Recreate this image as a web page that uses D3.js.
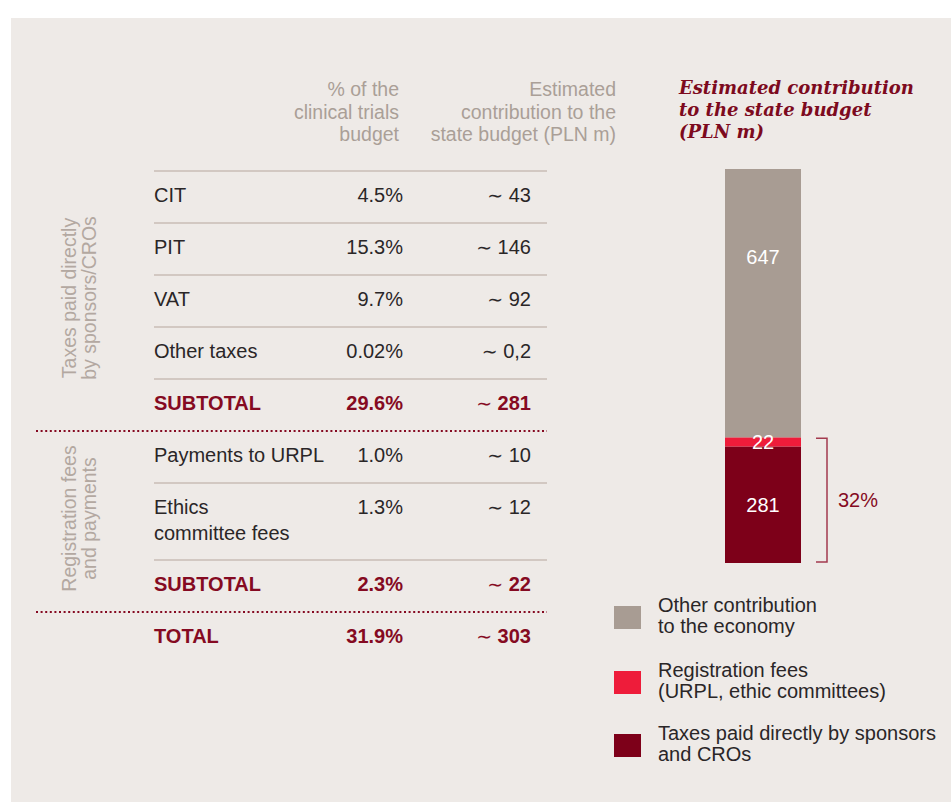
<!doctype html>
<html>
<head>
<meta charset="utf-8" />
<title>Clinical trials – contribution to the state budget</title>
<style>
  html,body{margin:0;height:100%;background:#fff}
  body{font-family:"Liberation Sans", Arial, sans-serif}
  svg{display:block}
</style>
<script src="https://cdn.jsdelivr.net/npm/d3@7"></script>
</head>
<body>
<svg id="chart" width="951" height="802"></svg>
<script>
// ───────────── data ─────────────
const groupLabels   = [["Taxes paid directly", "by sponsors/CROs"], ["Registration fees", "and payments"]];
const rowLabels     = ["CIT", "PIT", "VAT", "Other taxes", "SUBTOTAL",
                       "Payments to URPL", "Ethics\ncommittee fees", "SUBTOTAL", "TOTAL"];
const rowGroup      = [0, 0, 0, 0, 0, 1, 1, 1, 2];
const rowIsTotal    = [false, false, false, false, true, false, false, true, true];
const pctLabels     = ["4.5%", "15.3%", "9.7%", "0.02%", "29.6%", "1.0%", "1.3%", "2.3%", "31.9%"];
const contribLabels = ["43", "146", "92", "0,2", "281", "10", "12", "22", "303"];
const headerPct     = ["% of the", "clinical trials", "budget"];
const headerContrib = ["Estimated", "contribution to the", "state budget (PLN m)"];

const chartTitle    = ["Estimated contribution", "to the state budget", "(PLN m)"];
const barSeries     = ["taxes", "fees", "other"];
const barValues     = [281, 22, 647];
const barLabels     = ["281", "22", "647"];
const bracketLabel  = "32%";
const legendItems   = [
  {key: "other", lines: ["Other contribution", "to the economy"]},
  {key: "fees",  lines: ["Registration fees", "(URPL, ethic committees)"]},
  {key: "taxes", lines: ["Taxes paid directly by sponsors", "and CROs"]}
];

// ───────────── styles ─────────────
const C = {
  panel: "#eeeae7", text: "#2a2627", grey: "#aa9f97", rule: "#c9bdb6",
  red: "#850a22", title: "#7d0a1e", bracket: "#a33a4f"
};
const colour = d3.scaleOrdinal().domain(barSeries).range(["#7d0019", "#ee1c3a", "#a89c93"]);
const FS = 20;

const svg = d3.select("#chart");
svg.append("rect").attr("x", 11).attr("y", 18).attr("width", 940).attr("height", 784).attr("fill", C.panel);

// ───────────── table ─────────────
const colLabelX = 154, colPctX = 403, colContribX = 531, ruleX1 = 547;
const rowH = 52, extraLine = 25, tableTop = 171;

// cumulative row tops
const rowTops = [];
let yAcc = tableTop;
rowLabels.forEach(l => {
  rowTops.push(yAcc);
  yAcc += rowH + (l.split("\n").length - 1) * extraLine;
});
rowTops.push(yAcc);

const tbl = svg.append("g");

// headers
[[headerPct, colPctX - 4], [headerContrib, colContribX + 85]].forEach(([lines, x]) => {
  tbl.append("text")
    .attr("x", x).attr("y", 96)
    .attr("text-anchor", "end")
    .attr("fill", C.grey).attr("font-size", 19.5)
    .selectAll("tspan").data(lines).join("tspan")
      .attr("x", x).attr("dy", (d, i) => i ? 22.5 : 0)
      .text(d => d);
});

// top rule
tbl.append("line").attr("x1", colLabelX).attr("x2", ruleX1)
  .attr("y1", tableTop).attr("y2", tableTop)
  .attr("stroke", C.rule).attr("stroke-width", 1.5);

// rows
rowLabels.forEach((lab, i) => {
  const y0 = rowTops[i];
  const fill = rowIsTotal[i] ? C.red : C.text;
  const weight = rowIsTotal[i] ? "bold" : "normal";
  const base = y0 + 31;

  const t = tbl.append("text").attr("x", colLabelX).attr("y", base)
    .attr("fill", fill).attr("font-weight", weight).attr("font-size", FS);
  lab.split("\n").forEach((s, k) => t.append("tspan").attr("x", colLabelX).attr("dy", k ? extraLine + 1 : 0).text(s));

  tbl.append("text").attr("x", colPctX).attr("y", base).attr("text-anchor", "end")
    .attr("fill", fill).attr("font-weight", weight).attr("font-size", FS).text(pctLabels[i]);

  const c = tbl.append("text").attr("x", colContribX).attr("y", base).attr("text-anchor", "end")
    .attr("fill", fill).attr("font-weight", weight).attr("font-size", FS);
  c.append("tspan").attr("font-family", "'DejaVu Sans', sans-serif").attr("font-weight", "normal")
    .attr("font-size", FS * 0.95).text("\u223C");
  c.append("tspan").text("\u00A0" + contribLabels[i]);

  // rule under the row
  if (i === rowLabels.length - 1) return;
  const y1 = rowTops[i + 1];
  const groupEnd = rowGroup[i] !== rowGroup[i + 1];
  tbl.append("line")
    .attr("x1", groupEnd ? 36 : colLabelX).attr("x2", ruleX1)
    .attr("y1", y1).attr("y2", y1)
    .attr("stroke", groupEnd ? C.red : C.rule)
    .attr("stroke-width", groupEnd ? 2 : 1.5)
    .attr("stroke-dasharray", groupEnd ? "2 2.6" : null);
});

// rotated group labels
groupLabels.forEach((lines, g) => {
  const idx = rowGroup.map((d, i) => d === g ? i : -1).filter(i => i >= 0);
  const yMid = (rowTops[idx[0]] + rowTops[idx[idx.length - 1] + 1]) / 2 - 3;
  const t = tbl.append("text")
    .attr("transform", `translate(76,${yMid}) rotate(-90)`)
    .attr("text-anchor", "middle")
    .attr("fill", "#b3a8a1").attr("font-size", 19.5);
  lines.forEach((s, k) => t.append("tspan").attr("x", 0).attr("y", k ? 20 : 0).text(s));
});

// ───────────── stacked bar ─────────────
const total = d3.sum(barValues);
const y = d3.scaleLinear().domain([0, total]).range([563, 169]);
const x = d3.scaleBand().domain(["budget"]).range([725, 801]).padding(0);

const row = Object.fromEntries(barSeries.map((k, i) => [k, barValues[i]]));
const stacked = d3.stack().keys(barSeries)([row]);

const bar = svg.append("g");
bar.selectAll("rect").data(stacked).join("rect")
  .attr("x", x("budget")).attr("width", x.bandwidth())
  .attr("y", d => y(d[0][1])).attr("height", d => y(d[0][0]) - y(d[0][1]))
  .attr("fill", d => colour(d.key));

// labels: the big top segment carries its label in its upper part
bar.selectAll("text.val").data(stacked).join("text")
  .attr("class", "val")
  .attr("x", x("budget") + x.bandwidth() / 2)
  .attr("y", d => d.key === "other"
      ? y(d[0][1]) + 95
      : (y(d[0][0]) + y(d[0][1])) / 2 + 7)
  .attr("text-anchor", "middle").attr("fill", "#fff").attr("font-size", FS)
  .text((d, i) => barLabels[i]);

// title
const tt = svg.append("text").attr("x", 679).attr("y", 94)
  .attr("fill", C.title).attr("font-family", "'DejaVu Serif', serif")
  .attr("font-style", "italic").attr("font-weight", "bold").attr("font-size", 18);
chartTitle.forEach((s, k) => tt.append("tspan").attr("x", 679).attr("dy", k ? 22 : 0).text(s));

// bracket around taxes + fees
const bTop = y(barValues[0] + barValues[1]) + 1, bBot = y(0) - 1, bx = 827;
svg.append("path")
  .attr("d", `M${bx - 11},${bTop}H${bx}V${bBot}H${bx - 11}`)
  .attr("fill", "none").attr("stroke", C.bracket).attr("stroke-width", 1.5);
svg.append("text").attr("x", bx + 11).attr("y", (bTop + bBot) / 2 + 7)
  .attr("fill", C.red).attr("font-size", FS).text(bracketLabel);

// ───────────── legend ─────────────
const lg = svg.append("g").attr("transform", "translate(614,606)");
const legendStep = [0, 65, 128];
legendItems.forEach((it, i) => {
  const g = lg.append("g").attr("transform", `translate(0,${legendStep[i]})`);
  g.append("rect").attr("width", 27).attr("height", 23).attr("fill", colour(it.key));
  const t = g.append("text").attr("x", 44).attr("y", 6).attr("fill", C.text).attr("font-size", FS);
  it.lines.forEach((s, k) => t.append("tspan").attr("x", 44).attr("dy", k ? 21 : 0).text(s));
});
</script>
</body>
</html>
